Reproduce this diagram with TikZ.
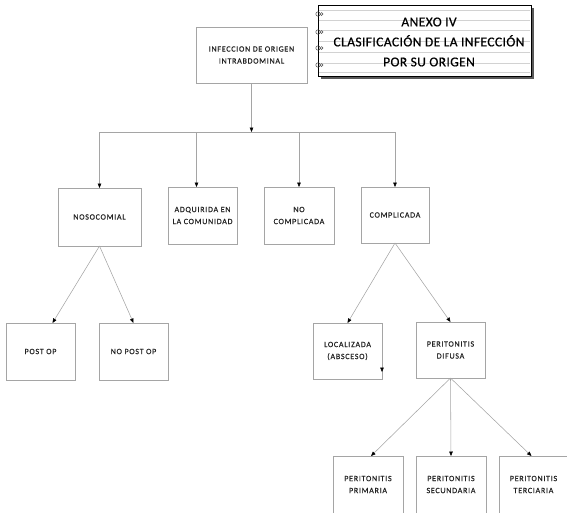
\documentclass[tikz,border=0pt]{standalone}
\usepackage{fontspec}
\setmainfont{Carlito}
\newfontfamily\boxfont[LetterSpace=9,FakeBold=0.4]{Carlito}
\newfontfamily\titlefont[LetterSpace=3,FakeBold=0.6]{Carlito}
\usetikzlibrary{arrows.meta,calc}
\definecolor{lineg}{RGB}{165,165,165}
\definecolor{txt}{RGB}{35,35,35}
\begin{document}
\begin{tikzpicture}[x=1pt,y=1pt,
  box/.style={draw=lineg, line width=0.7pt, inner sep=0pt, outer sep=0pt,
    align=center, text=txt, font=\boxfont\fontsize{8}{12}\selectfont,
    minimum width=69pt, minimum height=57pt},
  conn/.style={draw=lineg, line width=0.55pt, -{Triangle[length=4.5pt,width=3.6pt,black]}},
  plainln/.style={draw=lineg, line width=0.55pt},
  ring/.style={draw=black!70, line width=0.5pt}]
\useasboundingbox (0,0) rectangle (567,-512);

% ---- title banner ----
\fill[black!65] (321,-8) rectangle (534,-79);
\node[draw=black, line width=0.8pt, fill=white, inner sep=0pt, outer sep=0pt,
  minimum width=213pt, minimum height=71pt] (banner) at (424.5,-40.5) {};
\foreach \yy in {10,20,30,41,52,63,72}
  \draw[gray!35, line width=0.3pt] ($(banner.north west)+(1,-\yy+5)$) -- ($(banner.north east)+(-1,-\yy+5)$);
\foreach \yy in {14,32,48,65} {
  \draw[ring] (318,-\yy) circle (2.2);
  \draw[ring] (321.5,-\yy) circle (1.4);
}
\node[font=\titlefont\fontsize{13.5}{20}\selectfont, align=center, text=black, inner sep=0pt] (title)
  at (429,-42) {ANEXO IV\\CLASIFICACIÓN DE LA INFECCIÓN\\POR SU ORIGEN};

% ---- boxes ----
\node[box, minimum width=111pt, minimum height=56pt] (top) at (251.5,-55) {INFECCION DE ORIGEN\\INTRABDOMINAL};
\node[box, minimum width=83pt, minimum height=58pt] (nos) at (99.5,-217) {NOSOCOMIAL};
\node[box] (adq) at (202.5,-215.5) {ADQUIRIDA EN\\LA COMUNIDAD};
\node[box, minimum width=70pt] (noc) at (299,-215.5) {NO\\COMPLICADA};
\node[box, minimum width=68pt, minimum height=56pt] (com) at (395,-215) {COMPLICADA};
\node[box] (post) at (40.5,-351.5) {POST OP};
\node[box] (nopost) at (133.5,-351.5) {NO POST OP};
\node[box, minimum height=56pt] (loc) at (347.5,-351) {LOCALIZADA\\(ABSCESO)};
\node[box, minimum height=56pt] (dif) at (450.5,-350) {PERITONITIS\\DIFUSA};
\node[box, minimum width=70pt] (pri) at (368,-484.5) {PERITONITIS\\PRIMARIA};
\node[box, minimum width=70pt] (sec) at (451,-484.5) {PERITONITIS\\SECUNDARIA};
\node[box] (ter) at (533.5,-484.5) {PERITONITIS\\TERCIARIA};

% ---- connectors ----
\coordinate (bar) at (251.5,-132);
\draw[conn] (top.south) -- (bar);
\draw[plainln] (bar -| nos.north) -- (bar -| com.north);
\draw[conn] (bar -| nos.north) -- (nos.north);
\draw[conn] ($(bar -| adq.north)+(-6,0)$) -- ($(adq.north)+(-6,0)$);
\draw[conn] (bar -| noc.north) -- (noc.north);
\draw[conn] (bar -| com.north) -- (com.north);

\draw[conn] (nos.south) -- ($(post.north)+(12,0)$);
\draw[conn] (nos.south) -- (nopost.north);
\draw[conn] (com.south) -- (loc.north);
\draw[conn] (com.south) -- (dif.north);
\draw[conn] (dif.south) -- ($(pri.north)+(3,0)$);
\draw[conn] (dif.south) -- (sec.north);
\draw[conn] (dif.south) -- ($(ter.north)+(-2,0)$);

% stray small arrowhead inside LOCALIZADA
\coordinate (sa) at ($(loc.south east)+(0,13)$);
\coordinate (sb) at ($(loc.south east)+(0,7)$);
\draw[conn] (sa) -- (sb);
\end{tikzpicture}
\end{document}
